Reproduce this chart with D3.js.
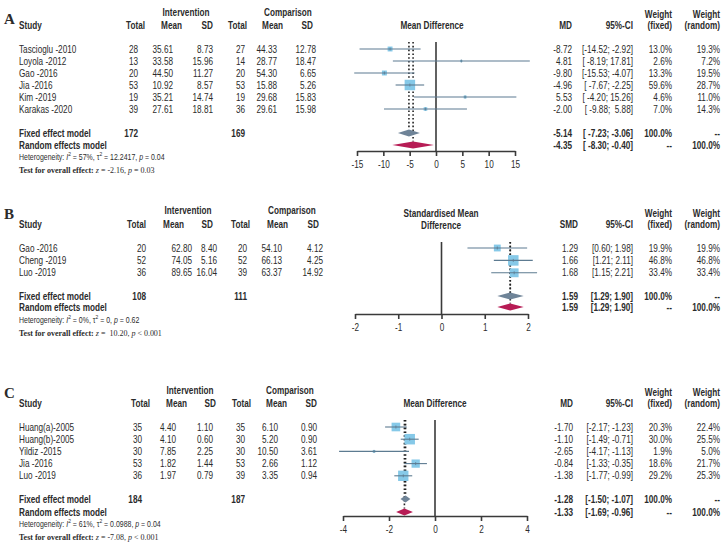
<!DOCTYPE html>
<html><head><meta charset="utf-8">
<script src="https://cdn.jsdelivr.net/npm/d3@7"></script>
<style>
body{margin:0;background:#fff}
svg text{font-family:"Liberation Sans Narrow","Liberation Sans",Arial,sans-serif;fill:#2b2b2b}
</style></head><body>
<svg id="chart" width="722" height="547"></svg>
<script>
// ---------- Panel A data ----------
const studiesA = ["Tascioglu -2010","Loyola -2012","Gao -2016","Jia -2016","Kim -2019","Karakas -2020"];
const intTotalA = [28,13,20,53,19,39];
const intMeanA = [35.61,33.58,44.50,10.92,35.21,27.61];
const intSDA = [8.73,15.96,11.27,8.57,14.74,18.81];
const cmpTotalA = [27,14,20,53,19,36];
const cmpMeanA = [44.33,28.77,54.30,15.88,29.68,29.61];
const cmpSDA = [12.78,18.47,6.65,5.26,15.83,15.98];
const effA = [-8.72,4.81,-9.80,-4.96,5.53,-2.00];
const ciLowA = [-14.52,-8.19,-15.53,-7.67,-4.20,-9.88];
const ciHighA = [-2.92,17.81,-4.07,-2.25,15.26,5.88];
const wFixedA = [13.0,2.6,13.3,59.6,4.6,7.0];
const wRandomA = [19.3,7.2,19.5,28.7,11.0,14.3];
const pooledFixedA = [-5.14,-7.23,-3.06];
const pooledRandomA = [-4.35,-8.30,-0.40];
const totalsA = [172,169];
const ticksA = [-15,-10,-5,0,5,10,15];
const hetA = ["57%","12.2417","= 0.04"];
const testA = ["-2.16","= 0.03"];

// ---------- Panel B data ----------
const studiesB = ["Gao -2016","Cheng -2019","Luo -2019"];
const intTotalB = [20,52,36];
const intMeanB = [62.80,74.05,89.65];
const intSDB = [8.40,5.16,16.04];
const cmpTotalB = [20,52,39];
const cmpMeanB = [54.10,66.13,63.37];
const cmpSDB = [4.12,4.25,14.92];
const effB = [1.29,1.66,1.68];
const ciLowB = [0.60,1.21,1.15];
const ciHighB = [1.98,2.11,2.21];
const wFixedB = [19.9,46.8,33.4];
const wRandomB = [19.9,46.8,33.4];
const pooledFixedB = [1.59,1.29,1.90];
const pooledRandomB = [1.59,1.29,1.90];
const totalsB = [108,111];
const ticksB = [-2,-1,0,1,2];
const hetB = ["0%","0","= 0.62"];
const testB = [" 10.20","< 0.001"];

// ---------- Panel C data ----------
const studiesC = ["Huang(a)-2005","Huang(b)-2005","Yildiz -2015","Jia -2016","Luo -2019"];
const intTotalC = [35,30,30,53,36];
const intMeanC = [4.40,4.10,7.85,1.82,1.97];
const intSDC = [1.10,0.60,2.25,1.44,0.79];
const cmpTotalC = [35,30,30,53,39];
const cmpMeanC = [6.10,5.20,10.50,2.66,3.35];
const cmpSDC = [0.90,0.90,3.61,1.12,0.94];
const effC = [-1.70,-1.10,-2.65,-0.84,-1.38];
const ciLowC = [-2.17,-1.49,-4.17,-1.33,-1.77];
const ciHighC = [-1.23,-0.71,-1.13,-0.35,-0.99];
const wFixedC = [20.3,30.0,1.9,18.6,29.2];
const wRandomC = [22.4,25.5,5.0,21.7,25.3];
const pooledFixedC = [-1.28,-1.50,-1.07];
const pooledRandomC = [-1.33,-1.69,-0.96];
const totalsC = [184,187];
const ticksC = [-4,-2,0,2,4];
const hetC = ["61%","0.0988","= 0.04"];
const testC = ["-7.08","< 0.001"];

const panels = [
  {label:"A", studies:studiesA, cols:[intTotalA,intMeanA,intSDA,cmpTotalA,cmpMeanA,cmpSDA], eff:effA, lo:ciLowA, hi:ciHighA,
   wf:wFixedA, wr:wRandomA, pf:pooledFixedA, pr:pooledRandomA, totals:totalsA, ticks:ticksA, het:hetA, test:testA,
   effName:"MD", plotTitle:["Mean Difference"],
   L:{labelY:19, grpY:12, hdrY:25, titleY:[25], rowY:49, rowStep:12, fixY:133, ranY:145, hetY:157, testY:170, axisY:151, plotTop:42,
      range:[357,515], hdrX:[145,182,213,247,283,313], valX:[138,173,213,245,277,316], grpX:[186,288], titleX:432, effX:572}},
  {label:"B", studies:studiesB, cols:[intTotalB,intMeanB,intSDB,cmpTotalB,cmpMeanB,cmpSDB], eff:effB, lo:ciLowB, hi:ciHighB,
   wf:wFixedB, wr:wRandomB, pf:pooledFixedB, pr:pooledRandomB, totals:totalsB, ticks:ticksB, het:hetB, test:testB,
   effName:"SMD", plotTitle:["Standardised Mean","Difference"],
   L:{labelY:214, grpY:210, hdrY:224, titleY:[213,225], rowY:248, rowStep:12.4, fixY:296, ranY:307, hetY:320, testY:333, axisY:314, plotTop:242,
      range:[355,528], hdrX:[146,184,213,250,288,319], valX:[146,192,217,247,282,323], grpX:[188,292], titleX:441, effX:578}},
  {label:"C", studies:studiesC, cols:[intTotalC,intMeanC,intSDC,cmpTotalC,cmpMeanC,cmpSDC], eff:effC, lo:ciLowC, hi:ciHighC,
   wf:wFixedC, wr:wRandomC, pf:pooledFixedC, pr:pooledRandomC, totals:totalsC, ticks:ticksC, het:hetC, test:testC,
   effName:"MD", plotTitle:["Mean Difference"],
   L:{labelY:393, grpY:390, hdrY:403, titleY:[403], rowY:427, rowStep:12.2, fixY:499, ranY:512, hetY:524, testY:537, axisY:516, plotTop:420,
      range:[343,527], hdrX:[150,187,216,251,287,317], valX:[142,176,213,245,278,317], grpX:[190,290], titleX:435, effX:573}}
];

const svg = d3.select("#chart");
const FS = 10, SX = 0.82;
const lineCol = "#5d7b91", sqCol = "#86c9e8", fixCol = "#6f8498", ranCol = "#b71c55";

function txt(g, x, y, s, opt={}) {
  return g.append("text").attr("transform", `translate(${x},${y}) scale(${opt.sx || SX},1)`).attr("dy", "0.35em")
    .attr("text-anchor", opt.anchor || "start")
    .attr("font-size", opt.size || FS)
    .attr("font-weight", opt.bold ? "bold" : "normal")
    .style("white-space", "pre")
    .text(s);
}
const f2 = v => (+v).toFixed(2);
function padL(s, n){ while (s.length < n) s = " " + s; return s; }

panels.forEach(p => {
  const L = p.L;
  const g = svg.append("g");
  // panel letter
  g.append("text").attr("x", 4).attr("y", L.labelY).attr("dy","0.35em")
    .style("font-family","Liberation Serif, serif")
    .attr("font-weight","bold").attr("font-size",15).text(p.label);
  // group headers
  txt(g, L.grpX[0], L.grpY, "Intervention", {anchor:"middle", bold:true});
  txt(g, L.grpX[1], L.grpY, "Comparison", {anchor:"middle", bold:true});
  txt(g, 19, L.hdrY, "Study", {bold:true});
  ["Total","Mean","SD","Total","Mean","SD"].forEach((h,i) => txt(g, L.hdrX[i], L.hdrY, h, {anchor:"end", bold:true}));
  // right headers
  p.plotTitle.forEach((t,i) => txt(g, L.titleX, L.titleY[i], t, {anchor:"middle", bold:true}));
  txt(g, L.effX, L.hdrY, p.effName, {anchor:"end", bold:true});
  txt(g, 633, L.hdrY, "95%-CI", {anchor:"end", bold:true});
  txt(g, 672, L.hdrY - 11, "Weight", {anchor:"end", bold:true});
  txt(g, 672, L.hdrY, "(fixed)", {anchor:"end", bold:true});
  txt(g, 720, L.hdrY - 11, "Weight", {anchor:"end", bold:true});
  txt(g, 720, L.hdrY, "(random)", {anchor:"end", bold:true});

  const rowY = i => L.rowY + i * L.rowStep;
  const loLen = d3.max(p.lo.concat([p.pf[1], p.pr[1]]), v => f2(v).length);
  const hiLen = d3.max(p.hi.concat([p.pf[2], p.pr[2]]), v => f2(v).length);
  const ciStr = (a,b) => "[" + padL(f2(a), loLen) + "; " + padL(f2(b), hiLen) + "]";

  p.studies.forEach((s,i) => {
    const y = rowY(i);
    txt(g, 19, y, s);
    p.cols.forEach((c,j) => txt(g, L.valX[j], y, (j===0||j===3) ? String(c[i]) : f2(c[i]), {anchor:"end"}));
    txt(g, L.effX, y, f2(p.eff[i]), {anchor:"end"});
    txt(g, 633, y, ciStr(p.lo[i], p.hi[i]), {anchor:"end"});
    txt(g, 672, y, p.wf[i].toFixed(1) + "%", {anchor:"end"});
    txt(g, 720, y, p.wr[i].toFixed(1) + "%", {anchor:"end"});
  });
  // summary rows
  txt(g, 19, L.fixY, "Fixed effect model", {bold:true});
  txt(g, 19, L.ranY, "Random effects model", {bold:true});
  txt(g, L.valX[0], L.fixY, String(p.totals[0]), {anchor:"end", bold:true});
  txt(g, L.valX[3], L.fixY, String(p.totals[1]), {anchor:"end", bold:true});
  txt(g, L.effX, L.fixY, f2(p.pf[0]), {anchor:"end", bold:true});
  txt(g, 633, L.fixY, ciStr(p.pf[1], p.pf[2]), {anchor:"end", bold:true});
  txt(g, 672, L.fixY, "100.0%", {anchor:"end", bold:true});
  txt(g, 720, L.fixY, "--", {anchor:"end", bold:true});
  txt(g, L.effX, L.ranY, f2(p.pr[0]), {anchor:"end", bold:true});
  txt(g, 633, L.ranY, ciStr(p.pr[1], p.pr[2]), {anchor:"end", bold:true});
  txt(g, 672, L.ranY, "--", {anchor:"end", bold:true});
  txt(g, 720, L.ranY, "100.0%", {anchor:"end", bold:true});

  // heterogeneity
  const h = g.append("text").attr("transform", `translate(19,${L.hetY}) scale(${SX},1)`).attr("dy","0.35em")
    .attr("font-size", 8.5).style("white-space","pre");
  h.append("tspan").text("Heterogeneity: ");
  h.append("tspan").attr("font-style","italic").text("I");
  h.append("tspan").attr("font-size",6).attr("dy",-3.5).text("2");
  h.append("tspan").attr("dy",3.5).text(" = " + p.het[0] + ", \u03C4");
  h.append("tspan").attr("font-size",6).attr("dy",-3.5).text("2");
  h.append("tspan").attr("dy",3.5).text(" = " + p.het[1] + ", ");
  h.append("tspan").attr("font-style","italic").text("p");
  h.append("tspan").text(" " + p.het[2]);
  // test for overall effect
  const t = g.append("text").attr("transform", `translate(19,${L.testY}) scale(0.89,1)`).attr("dy","0.35em")
    .attr("font-size", 9).style("font-family","Liberation Serif, serif").style("white-space","pre");
  t.append("tspan").attr("font-weight","bold").text("Test for overall effect: ");
  t.append("tspan").attr("font-style","italic").text("z");
  t.append("tspan").text(" = " + p.test[0] + ", ");
  t.append("tspan").attr("font-style","italic").text("p");
  t.append("tspan").text(" " + p.test[1]);

  // ---------- plot ----------
  const x = d3.scaleLinear().domain([p.ticks[0], p.ticks[p.ticks.length-1]]).range(L.range);
  const wmax = d3.max(p.wf);
  const dh = 3.6;
  // dotted pooled lines
  g.append("line").attr("x1", x(p.pf[0])).attr("x2", x(p.pf[0])).attr("y1", L.plotTop).attr("y2", L.fixY - dh)
    .attr("stroke","#222").attr("stroke-width",1.6).attr("stroke-dasharray","1.6,2.2");
  g.append("line").attr("x1", x(p.pr[0])).attr("x2", x(p.pr[0])).attr("y1", L.plotTop).attr("y2", L.ranY - dh)
    .attr("stroke","#222").attr("stroke-width",1.6).attr("stroke-dasharray","1.6,2.2");
  // zero line
  g.append("line").attr("x1", x(0)).attr("x2", x(0)).attr("y1", L.plotTop).attr("y2", L.axisY)
    .attr("stroke","#3a3a3a").attr("stroke-width",1.6);
  // squares
  p.eff.forEach((e,i) => {
    const s = 10.5 * Math.sqrt(p.wf[i] / wmax);
    g.append("rect").attr("x", x(e) - s/2).attr("y", rowY(i) - s/2).attr("width", s).attr("height", s).attr("fill", sqCol);
  });
  // CI lines
  p.eff.forEach((e,i) => {
    g.append("line").attr("x1", x(p.lo[i])).attr("x2", x(p.hi[i])).attr("y1", rowY(i)).attr("y2", rowY(i))
      .attr("stroke", lineCol).attr("stroke-width", 1.1);
    g.append("line").attr("x1", x(e)).attr("x2", x(e)).attr("y1", rowY(i)-1.5).attr("y2", rowY(i)+1.5)
      .attr("stroke", lineCol).attr("stroke-width", 0.8);
  });
  // diamonds
  const diamond = (v, y, col) => g.append("path")
    .attr("d", `M${x(v[1])},${y}L${x(v[0])},${y-dh}L${x(v[2])},${y}L${x(v[0])},${y+dh}Z`).attr("fill", col);
  diamond(p.pf, L.fixY, fixCol);
  diamond(p.pr, L.ranY, ranCol);
  // axis
  const ax = g.append("g").attr("transform", `translate(0,${L.axisY})`)
    .call(d3.axisBottom(x).tickValues(p.ticks).tickSize(5).tickSizeOuter(0).tickPadding(5).tickFormat(d3.format("d")));
  ax.select(".domain").attr("stroke","#3a3a3a").attr("stroke-width",1.6);
  ax.selectAll(".tick line").attr("stroke","#3a3a3a").attr("stroke-width",1.6);
  ax.selectAll(".tick text").attr("font-size",10).attr("font-family",null).attr("fill","#2b2b2b")
    .attr("transform", `scale(${SX},1)`)
    .text(d => d < 0 ? "-" + Math.abs(d) : String(d));
});
</script>
</body></html>
